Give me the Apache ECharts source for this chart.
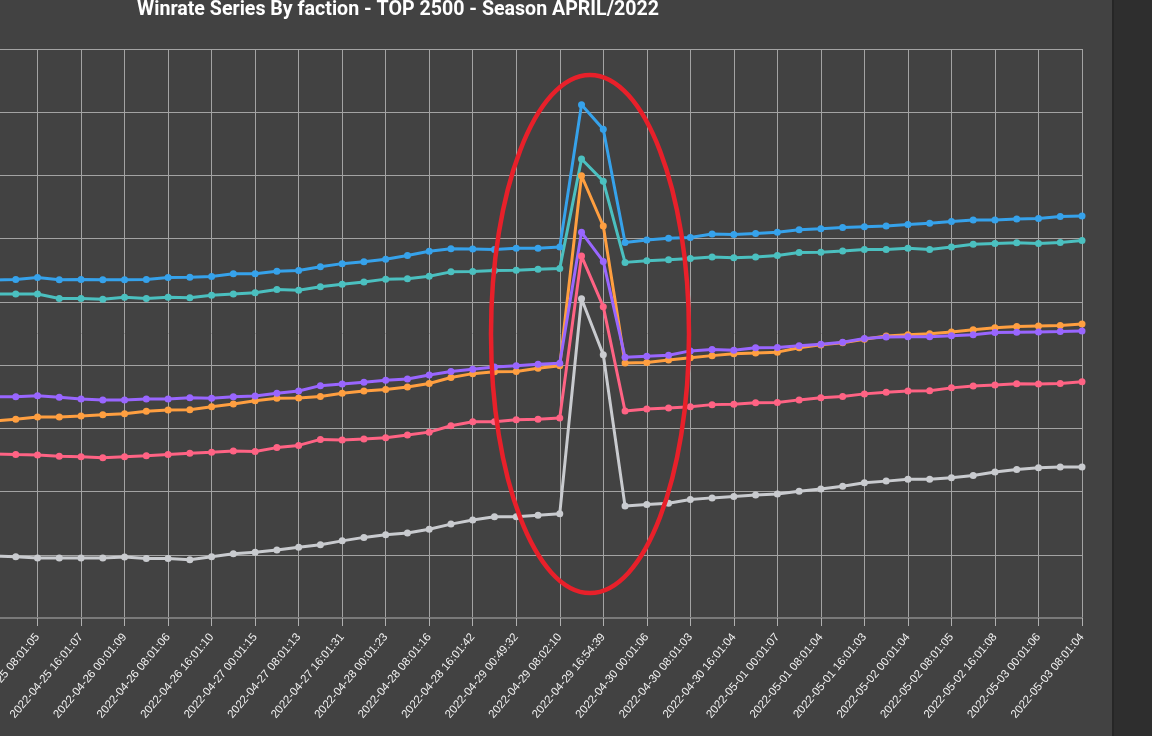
<!DOCTYPE html>
<html>
<head>
<meta charset="utf-8">
<script src="https://cdn.jsdelivr.net/npm/echarts@6/dist/echarts.min.js"></script>
<style>
	html, body { margin: 0; padding: 0; width: 1152px; height: 736px; overflow: hidden; background: #2e2e2e; }
	/* the picture is a crop: the chart reaches past the left edge */
	#chart { position: absolute; left: -316px; top: 0; width: 1428px; height: 736px; }
	#edge { position: absolute; left: 1112px; top: 0; width: 2px; height: 736px; background: #262626; }
</style>
</head>
<body>
<div id="chart"></div>
<div id="edge"></div>
<script>
// snapshots every ~4 hours, only every second one is labelled
var times = [
	'2022-04-25 00:01:04', '2022-04-25 04:01:06', '2022-04-25 08:01:05', '2022-04-25 12:01:04',
	'2022-04-25 16:01:07', '2022-04-25 20:01:05', '2022-04-26 00:01:09', '2022-04-26 04:01:07',
	'2022-04-26 08:01:06', '2022-04-26 12:01:08', '2022-04-26 16:01:10', '2022-04-26 20:01:12',
	'2022-04-27 00:01:15', '2022-04-27 04:01:11', '2022-04-27 08:01:13', '2022-04-27 12:01:20',
	'2022-04-27 16:01:31', '2022-04-27 20:01:19', '2022-04-28 00:01:23', '2022-04-28 04:01:18',
	'2022-04-28 08:01:16', '2022-04-28 12:01:25', '2022-04-28 16:01:42', '2022-04-28 20:01:30',
	'2022-04-29 00:49:32', '2022-04-29 04:01:50', '2022-04-29 08:02:10', '2022-04-29 12:40:21',
	'2022-04-29 16:54:39', '2022-04-29 20:01:08', '2022-04-30 00:01:06', '2022-04-30 04:01:05',
	'2022-04-30 08:01:03', '2022-04-30 12:01:04', '2022-04-30 16:01:04', '2022-04-30 20:01:05',
	'2022-05-01 00:01:07', '2022-05-01 04:01:05', '2022-05-01 08:01:04', '2022-05-01 12:01:03',
	'2022-05-01 16:01:03', '2022-05-01 20:01:04', '2022-05-02 00:01:04', '2022-05-02 04:01:06',
	'2022-05-02 08:01:05', '2022-05-02 12:01:06', '2022-05-02 16:01:08', '2022-05-02 20:01:05',
	'2022-05-03 00:01:06', '2022-05-03 04:01:05', '2022-05-03 08:01:04'
];

var blue = [50.69, 50.71, 50.77, 50.70, 50.71, 50.70, 50.70, 50.71, 50.77, 50.78,
	50.80, 50.89, 50.89, 50.97, 50.99, 51.11, 51.21, 51.27, 51.35, 51.47,
	51.60, 51.68, 51.67, 51.66, 51.70, 51.70, 51.74, 56.24, 55.46, 51.88,
	51.96, 52.01, 52.04, 52.15, 52.13, 52.16, 52.20, 52.28, 52.31, 52.35,
	52.38, 52.40, 52.45, 52.49, 52.54, 52.59, 52.59, 52.62, 52.64, 52.70, 52.72];

var teal = [50.25, 50.25, 50.25, 50.11, 50.11, 50.08, 50.15, 50.11, 50.15, 50.13,
	50.21, 50.25, 50.29, 50.39, 50.37, 50.48, 50.56, 50.63, 50.72, 50.73,
	50.81, 50.95, 50.96, 50.99, 51.00, 51.03, 51.06, 54.52, 53.82, 51.25,
	51.30, 51.33, 51.37, 51.42, 51.40, 51.42, 51.47, 51.56, 51.57, 51.61,
	51.66, 51.66, 51.70, 51.66, 51.74, 51.82, 51.85, 51.87, 51.85, 51.88, 51.94];

var orange = [46.23, 46.29, 46.36, 46.36, 46.39, 46.43, 46.46, 46.54, 46.58, 46.59,
	46.68, 46.77, 46.87, 46.95, 46.96, 47.01, 47.11, 47.18, 47.23, 47.31,
	47.42, 47.61, 47.73, 47.79, 47.80, 47.90, 47.98, 53.99, 52.40, 48.07,
	48.08, 48.16, 48.23, 48.30, 48.36, 48.38, 48.41, 48.55, 48.64, 48.71,
	48.82, 48.92, 48.96, 48.99, 49.05, 49.12, 49.18, 49.22, 49.24, 49.25, 49.30];

var purple = [47.00, 47.00, 47.03, 46.98, 46.93, 46.90, 46.90, 46.93, 46.93, 46.97,
	46.95, 47.00, 47.02, 47.11, 47.18, 47.35, 47.40, 47.46, 47.52, 47.56,
	47.69, 47.80, 47.87, 47.94, 47.98, 48.03, 48.06, 52.20, 51.28, 48.25,
	48.28, 48.31, 48.45, 48.49, 48.47, 48.55, 48.56, 48.61, 48.66, 48.72,
	48.84, 48.89, 48.90, 48.90, 48.93, 48.96, 49.03, 49.04, 49.05, 49.06, 49.08];

var pink = [45.19, 45.17, 45.16, 45.12, 45.10, 45.07, 45.10, 45.13, 45.17, 45.21,
	45.24, 45.28, 45.27, 45.39, 45.46, 45.65, 45.63, 45.66, 45.70, 45.79,
	45.88, 46.08, 46.21, 46.21, 46.27, 46.29, 46.33, 51.45, 49.85, 46.55,
	46.61, 46.64, 46.68, 46.75, 46.76, 46.81, 46.82, 46.90, 46.97, 47.01,
	47.09, 47.14, 47.18, 47.19, 47.28, 47.34, 47.37, 47.41, 47.40, 47.42, 47.47];

var grey = [41.96, 41.94, 41.90, 41.90, 41.90, 41.90, 41.93, 41.88, 41.88, 41.84,
	41.94, 42.03, 42.08, 42.15, 42.24, 42.32, 42.44, 42.55, 42.63, 42.69,
	42.81, 42.97, 43.10, 43.20, 43.20, 43.25, 43.30, 50.10, 48.33, 43.54,
	43.59, 43.63, 43.75, 43.80, 43.84, 43.89, 43.92, 44.01, 44.08, 44.17,
	44.28, 44.33, 44.39, 44.39, 44.44, 44.51, 44.62, 44.70, 44.75, 44.78, 44.78];

var yMin = 40, yMax = 58, yStep = 2;

(function () {
	let myChart = echarts.init(document.getElementById('chart'));

	function line(data, color) {
		return {
			type: 'line',
			data: data,
			symbol: 'circle',
			symbolSize: 7,
			lineStyle: { color: color, width: 3 },
			itemStyle: { color: color },
			z: 3
		};
	}

	let option = {
		animation: false,
		backgroundColor: '#424242',
		title: {
			text: 'Winrate Series By faction - TOP 2500 - Season APRIL/2022',
			left: 'center',
			top: -5,
			textStyle: {
				color: '#ffffff',
				fontFamily: 'Roboto',
				fontWeight: 'bold',
				fontSize: 19.6
			}
		},
		grid: {
			left: 310,
			right: 30,
			top: 49,
			bottom: 118
		},
		xAxis: {
			type: 'category',
			data: times,
			boundaryGap: false,
			axisLine: { lineStyle: { color: '#7a7a7a', width: 2 } },
			axisTick: { interval: 1, length: 8, lineStyle: { color: '#b0b0b0' } },
			axisLabel: {
				interval: 1,
				rotate: 50,
				color: '#f2f2f2',
				fontFamily: 'Liberation Sans',
				fontSize: 11.5,
				margin: 17
			},
			splitLine: { show: true, interval: 1, lineStyle: { color: '#a3a3a3', width: 1 } }
		},
		yAxis: {
			type: 'value',
			min: yMin,
			max: yMax,
			interval: yStep,
			axisLine: { show: false },
			axisTick: { show: false },
			axisLabel: { color: '#eeeeee' },
			splitLine: { lineStyle: { color: '#a3a3a3', width: 1 } }
		},
		series: [
			line(blue, '#36a2eb'),
			line(teal, '#4bc0c0'),
			line(orange, '#ff9f40'),
			line(purple, '#9966ff'),
			line(pink, '#ff6384'),
			line(grey, '#c9cbcf')
		],
		// hand drawn red ring round the spike
		graphic: [{
			type: 'ellipse',
			shape: { cx: 906, cy: 334, rx: 99, ry: 259 },
			style: { fill: 'none', stroke: '#e8202a', lineWidth: 4.5 },
			z: 100
		}]
	};
	myChart.setOption(option);
})();
</script>
</body>
</html>
